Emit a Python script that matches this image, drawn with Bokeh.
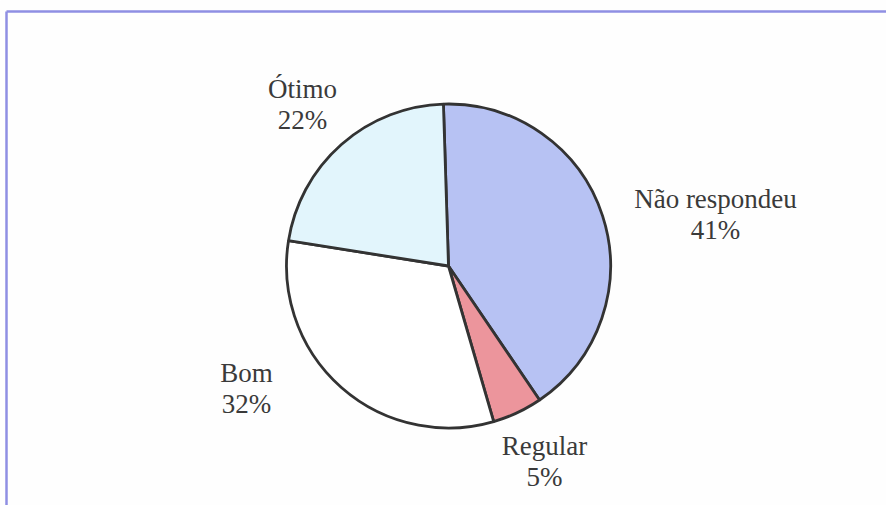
import math
from bokeh.plotting import figure
from bokeh.models import Range1d, ColumnDataSource
from bokeh.core.properties import value
from bokeh.embed import file_html
from bokeh.resources import INLINE

# ---- data ----
categories = ["Não respondeu", "Regular", "Bom", "Ótimo"]
percents = [41, 5, 32, 22]
colors = ["#b7c2f3", "#ec959c", "#ffffff", "#e2f5fc"]

# ---- layout (pixel coordinates inside the figure) ----
W, H = 886, 505
cx, cy_pix, radius = 448, 265.5, 162
tilt_deg = 1.8  # start slightly left of 12 o'clock
# label anchor centres (x, baseline y of first line) in pixels
label_pos = [(715, 198), (544, 445), (246, 372), (302, 88)]
line_gap = 31


def py(pix_y):
    return H - pix_y


p = figure(width=W, height=H, output_backend="svg", toolbar_location=None,
           x_range=Range1d(0, W), y_range=Range1d(0, H), min_border=0)
p.axis.visible = False
p.grid.visible = False
p.outline_line_color = None
p.background_fill_color = "#fefefe"
p.border_fill_color = "#fefefe"

# frame lines (top and left)
p.line(x=[6, W], y=[py(11), py(11)], line_color="#8f8fe3", line_width=2.5)
p.line(x=[6, 6], y=[py(11), 0], line_color="#8f8fe3", line_width=2.5)

# pie wedges
total = sum(percents)
a0 = math.pi / 2 + math.radians(tilt_deg)
starts, ends = [], []
cum = 0
for v in percents:
    starts.append(a0 - 2 * math.pi * cum / total)
    cum += v
    ends.append(a0 - 2 * math.pi * cum / total)

src = ColumnDataSource(dict(x=[cx] * len(percents), y=[py(cy_pix)] * len(percents),
                            start=starts, end=ends, color=colors))
p.wedge(x="x", y="y", radius=radius, start_angle="start", end_angle="end",
        direction="clock", fill_color="color", line_color="#333333",
        line_width=2.8, source=src)

# labels
lx = [pos[0] for pos in label_pos]
ly1 = [py(pos[1]) for pos in label_pos]
ly2 = [py(pos[1] + line_gap) for pos in label_pos]
pct_text = [f"{v}%" for v in percents]

common = dict(text_font=value("Liberation Serif"), text_font_size="27px",
              text_color="#3a3a3a", text_align="center", text_baseline="alphabetic")
p.text(x=lx, y=ly1, text=categories, **common)
p.text(x=lx, y=ly2, text=pct_text, **common)

open("out.html", "w").write(file_html(p, INLINE))
